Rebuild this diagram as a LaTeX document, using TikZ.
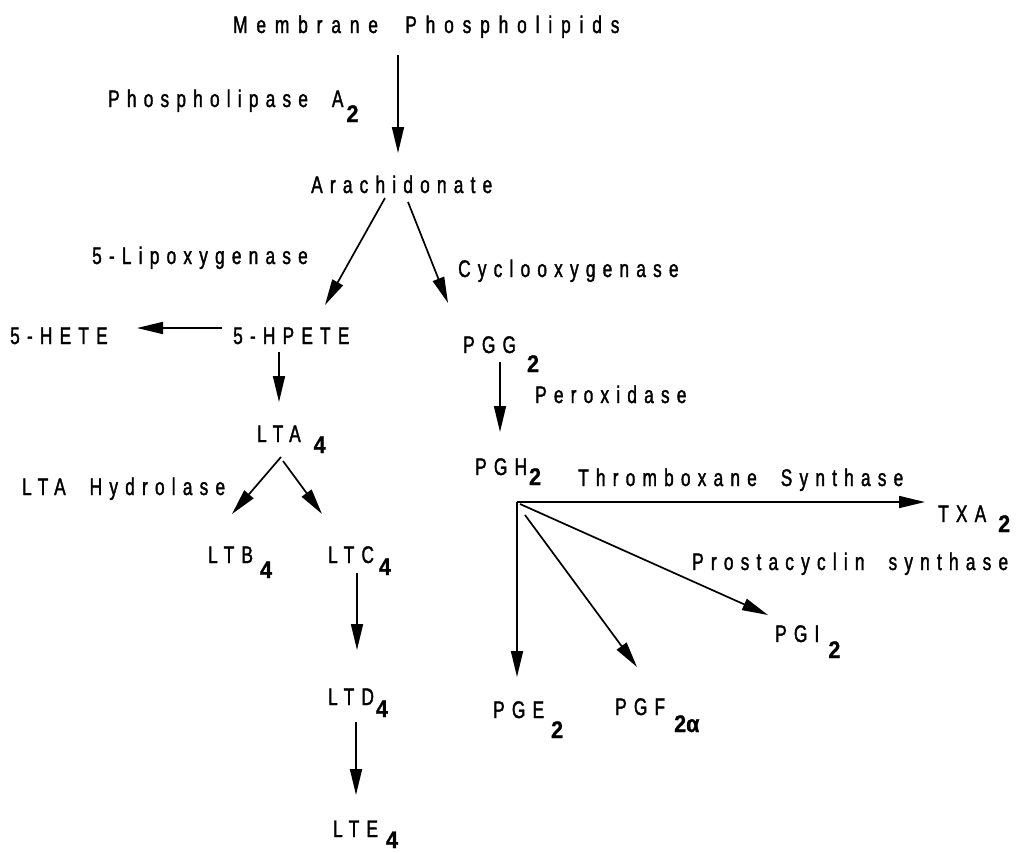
\documentclass[tikz,border=0pt]{standalone}
\usepackage{fontspec}
\setmainfont{Liberation Sans}[FakeStretch=0.72, LetterSpace=30, WordSpace=2, FakeBold=1.5]
\newfontfamily\titlefont{Liberation Sans}[FakeStretch=0.72, LetterSpace=37, WordSpace=2, FakeBold=1.5]
\newfontfamily\subfont{Liberation Sans Bold}[FakeStretch=0.9, FakeBold=1]
\usetikzlibrary{arrows.meta}
\newcommand\sbs[3]{\kern#1pt\raisebox{-#2pt}{\fontsize{24}{27}\subfont #3}}
\begin{document}
\begin{tikzpicture}[x=1pt,y=-1pt,
  lbl/.style={inner sep=0pt, anchor=base west, font=\fontsize{24}{28}\selectfont},
  arr/.style={line width=1.7pt, -{Triangle[length=26pt,width=12pt]}}]
\useasboundingbox (0,0) rectangle (1016,852);
\node[lbl, font=\fontsize{24}{28}\selectfont\titlefont] (mem) at (233,33) {Membrane Phospholipids};
\node[lbl] (pla) at (108,107) {Phospholipase A\sbs{3}{15}{2}};
\node[lbl] (ara) at (311,193) {Arachidonate};
\node[lbl] (lox) at (92,264) {5-Lipoxygenase};
\node[lbl] (cox) at (458,277) {Cyclooxygenase};
\node[lbl] (hete) at (10,344) {5-HETE};
\node[lbl] (hpete) at (233,344) {5-HPETE};
\node[lbl] (pgg) at (463,353) {PGG\sbs{11}{19}{2}};
\node[lbl] (perox) at (535,403) {Peroxidase};
\node[lbl] (pgh) at (475,475) {PGH\sbs{2}{10}{2}};
\node[lbl] (thromb) at (578,486) {Thromboxane Synthase};
\node[lbl] (txa) at (938,522) {TXA\sbs{12}{10}{2}};
\node[lbl] (lta) at (257,442) {LTA\sbs{13}{11}{4}};
\node[lbl] (ltahyd) at (22,495) {LTA Hydrolase};
\node[lbl] (prost) at (692,570) {Prostacyclin synthase};
\node[lbl] (ltb) at (208,563) {LTB\sbs{7}{15}{4}};
\node[lbl] (ltc) at (328,563) {LTC\sbs{5}{12}{4}};
\node[lbl] (pgi) at (775,642) {PGI\sbs{9}{16}{2}};
\node[lbl] (pge) at (493,718) {PGE\sbs{7}{20}{2}};
\node[lbl] (pgf) at (615,715) {PGF\sbs{9}{17}{2α}};
\node[lbl] (ltd) at (328,705) {LTD\sbs{2}{12}{4}};
\node[lbl] (lte) at (333,837) {LTE\sbs{8}{11}{4}};
% connectors
\draw[arr] ([shift={(165,22)}]mem.base west) -- ([shift={(87,-40)}]ara.base west);
\draw[arr] ([shift={(74,5)}]ara.base west) -- ([shift={(92,-39)}]hpete.base west);
\draw[arr] ([shift={(97,9)}]ara.base west) -- ([shift={(-15,-50)}]pgg.base west);
\draw[arr] ([shift={(-11,-16)}]hpete.base west) -- ([shift={(127,-16)}]hete.base west);
\draw[arr] ([shift={(46,8)}]hpete.base west) -- ([shift={(22,-40)}]lta.base west);
\draw[arr] ([shift={(37,9)}]pgg.base west) -- ([shift={(25,-43)}]pgh.base west);
\draw[arr] ([shift={(24,15)}]lta.base west) -- ([shift={(24,-49)}]ltb.base west);
\draw[arr] ([shift={(26,19)}]lta.base west) -- ([shift={(-6,-49)}]ltc.base west);
\draw[arr] ([shift={(29,10)}]ltc.base west) -- ([shift={(29,-55)}]ltd.base west);
\draw[arr] ([shift={(28,17)}]ltd.base west) -- ([shift={(23,-42)}]lte.base west);
\draw[arr] ([shift={(42,27)}]pgh.base west) -- ([shift={(-13,-20)}]txa.base west);
\draw[arr] ([shift={(42,27)}]pgh.base west) -- ([shift={(24,-41)}]pge.base west);
\draw[arr] ([shift={(50,40)}]pgh.base west) -- ([shift={(22,-48)}]pgf.base west);
\draw[arr] ([shift={(45,29)}]pgh.base west) -- ([shift={(-7,-27)}]pgi.base west);
\end{tikzpicture}
\end{document}
